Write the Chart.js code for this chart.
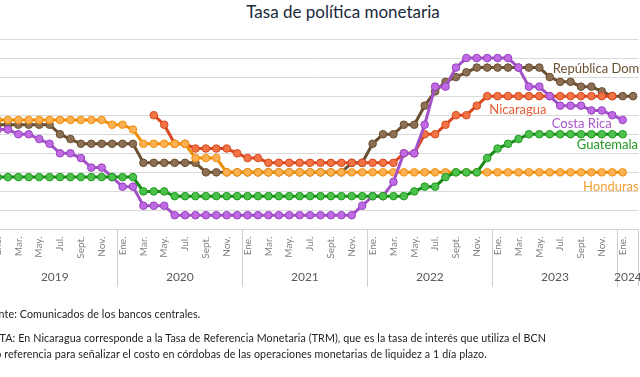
<!DOCTYPE html>
<html>
<head>
<meta charset="utf-8">
<script src="https://cdn.jsdelivr.net/npm/chart.js@4"></script>
<style>
  html, body { margin: 0; padding: 0; background: #fff; }
  #frame { position: relative; width: 640px; height: 377px; overflow: hidden; font-family: Lato, sans-serif; }
  #title { position: absolute; top: 1px; left: 0; width: 686px; text-align: center; font-size: 17px; color: #1b2a3a; }
  #chartBox { position: absolute; left: -40px; top: 0; width: 700px; height: 377px; }
  .note { position: absolute; font-size: 10.7px; letter-spacing: 0.1px; color: #222; white-space: nowrap; line-height: 16px; }
</style>
</head>
<body>
<div id="frame">
  <div id="title">Tasa de política monetaria</div>
  <div id="chartBox"><canvas id="rateChart" width="700" height="377"></canvas></div>
  <div class="note" style="left:-19px; top:306px;">Fuente: Comunicados de los bancos centrales.</div>
  <div class="note" style="left:-17px; top:330px;">NOTA: En Nicaragua corresponde a la Tasa de Referencia Monetaria (TRM), que es la tasa de interés que utiliza el BCN</div>
  <div class="note" style="left:-25px; top:346px;">como referencia para señalizar el costo en córdobas de las operaciones monetarias de liquidez a 1 día plazo.</div>
</div>
<script>
// Years and month labels (only odd months are labelled)
const years = ['2019', '2020', '2021', '2022', '2023', '2024'];
const monthNames = ['Ene.', '', 'Mar.', '', 'May.', '', 'Jul.', '', 'Sept.', '', 'Nov.', ''];
const monthsInYear = [12, 12, 12, 12, 12, 2];

// Policy rates, % (monthly, Jan 2019 - Feb 2024)
const republicaDominicana = [
  5.5, 5.5, 5.5, 5.5, 5.5, 5.5, 5.0, 4.75, 4.5, 4.5, 4.5, 4.5,
  4.5, 4.5, 3.5, 3.5, 3.5, 3.5, 3.5, 3.5, 3.0, 3.0, 3.0, 3.0,
  3.0, 3.0, 3.0, 3.0, 3.0, 3.0, 3.0, 3.0, 3.0, 3.0, 3.5, 3.5,
  4.5, 5.0, 5.0, 5.5, 5.5, 6.5, 7.25, 7.75, 8.0, 8.25, 8.5, 8.5,
  8.5, 8.5, 8.5, 8.5, 8.5, 8.0, 7.75, 7.75, 7.5, 7.5, 7.25, 7.0,
  7.0, 7.0
];
const costaRica = [
  5.25, 5.25, 5.0, 5.0, 4.75, 4.5, 4.0, 4.0, 3.75, 3.25, 3.25, 2.75,
  2.25, 2.25, 1.25, 1.25, 1.25, 0.75, 0.75, 0.75, 0.75, 0.75, 0.75, 0.75,
  0.75, 0.75, 0.75, 0.75, 0.75, 0.75, 0.75, 0.75, 0.75, 0.75, 0.75, 1.25,
  1.75, 1.75, 2.5, 4.0, 4.0, 5.5, 7.5, 7.5, 8.5, 9.0, 9.0, 9.0,
  9.0, 9.0, 8.5, 7.5, 7.5, 7.0, 6.5, 6.5, 6.5, 6.25, 6.25, 6.0,
  5.75, null
];
const nicaragua = [
  null, null, null, null, null, null, null, null, null, null, null, null,
  null, null, null, 6.0, 5.5, 4.5, 4.5, 4.25, 4.25, 4.25, 4.25, 4.0,
  3.75, 3.75, 3.5, 3.5, 3.5, 3.5, 3.5, 3.5, 3.5, 3.5, 3.5, 3.5,
  3.5, 3.5, 3.5, 4.0, 4.0, 5.0, 5.0, 5.5, 6.0, 6.0, 6.5, 7.0,
  7.0, 7.0, 7.0, 7.0, 7.0, 7.0, 7.0, 7.0, 7.0, 7.0, 7.0, 7.0,
  null, null
];
const guatemala = [
  2.75, 2.75, 2.75, 2.75, 2.75, 2.75, 2.75, 2.75, 2.75, 2.75, 2.75, 2.75,
  2.75, 2.75, 2.0, 2.0, 2.0, 1.75, 1.75, 1.75, 1.75, 1.75, 1.75, 1.75,
  1.75, 1.75, 1.75, 1.75, 1.75, 1.75, 1.75, 1.75, 1.75, 1.75, 1.75, 1.75,
  1.75, 1.75, 1.75, 1.75, 2.0, 2.25, 2.25, 2.75, 3.0, 3.0, 3.0, 3.75,
  4.25, 4.5, 4.75, 5.0, 5.0, 5.0, 5.0, 5.0, 5.0, 5.0, 5.0, 5.0,
  5.0, null
];
const honduras = [
  5.75, 5.75, 5.75, 5.75, 5.75, 5.75, 5.75, 5.75, 5.75, 5.75, 5.75, 5.5,
  5.5, 5.25, 4.5, 4.5, 4.5, 4.5, 4.5, 3.75, 3.75, 3.75, 3.0, 3.0,
  3.0, 3.0, 3.0, 3.0, 3.0, 3.0, 3.0, 3.0, 3.0, 3.0, 3.0, 3.0,
  3.0, 3.0, 3.0, 3.0, 3.0, 3.0, 3.0, 3.0, 3.0, 3.0, 3.0, 3.0,
  3.0, 3.0, 3.0, 3.0, 3.0, 3.0, 3.0, 3.0, 3.0, 3.0, 3.0, 3.0,
  3.0, null
];

// Build the category axis: one slot per month, remembering the year of each
const categories = [];
const categoryYears = [];
years.forEach((yr, k) => {
  for (let m = 0; m < monthsInYear[k]; m++) {
    categories.push(monthNames[m]);
    categoryYears.push(yr);
  }
});

function series(label, data, line, fill, border, textColor, labelAt) {
  return {
    label: label,
    data: data,
    borderColor: line,
    borderWidth: 3,
    pointRadius: 3.8,
    pointBorderWidth: 1,
    pointBackgroundColor: fill,
    pointBorderColor: border,
    tension: 0,
    labelColor: textColor,
    labelAt: labelAt // [month slot, value] where the name is written
  };
}

// first dataset is drawn on top
const datasets = [
  series('Guatemala', guatemala, '#168c16', '#4cc24c', '#1f9a1f', '#1f961f', [55.6, 4.44]),
  series('Costa Rica', costaRica, '#a452c8', '#c06ae6', '#9642bc', '#a856c8', [53.2, 5.57]),
  series('Honduras', honduras, '#f08c00', '#fbb054', '#f0900c', '#f5a033', [56.2, 2.25]),
  series('Nicaragua', nicaragua, '#d9481f', '#f27445', '#d9481f', '#e45c35', [47.2, 6.27]),
  series('República Dominicana', republicaDominicana, '#6b4e2e', '#8c7055', '#6b4e2e', '#6b5031', [53.3, 8.45])
];

// Year names under the month labels, with separators between years
const yearBands = {
  id: 'yearBands',
  afterDraw(chart) {
    const x = chart.scales.x;
    const area = chart.chartArea;
    const ctx = chart.ctx;
    const slot = x.getPixelForValue(1) - x.getPixelForValue(0);
    ctx.save();
    ctx.strokeStyle = '#d0d0d0';
    ctx.lineWidth = 1;
    ctx.fillStyle = '#595959';
    ctx.font = '12px Lato';
    ctx.textAlign = 'center';
    ctx.textBaseline = 'middle';
    years.forEach(yr => {
      const first = categoryYears.indexOf(yr);
      const last = categoryYears.lastIndexOf(yr);
      const left = x.getPixelForValue(first) - slot / 2;
      const right = x.getPixelForValue(last) + slot / 2;
      [left, right].forEach(px => {
        ctx.beginPath();
        ctx.moveTo(Math.round(px) + 0.5, area.bottom);
        ctx.lineTo(Math.round(px) + 0.5, area.bottom + 57);
        ctx.stroke();
      });
      ctx.fillText(yr, (left + right) / 2, area.bottom + 48);
    });
    ctx.restore();
  }
};

// Country names next to their lines
const seriesLabels = {
  id: 'seriesLabels',
  afterDatasetsDraw(chart) {
    const { x, y } = chart.scales;
    const ctx = chart.ctx;
    ctx.save();
    ctx.font = '13px Lato';
    ctx.textAlign = 'left';
    ctx.textBaseline = 'middle';
    chart.data.datasets.forEach(ds => {
      ctx.fillStyle = ds.labelColor;
      ctx.fillText(ds.label, x.getPixelForValue(ds.labelAt[0]), y.getPixelForValue(ds.labelAt[1]));
    });
    ctx.restore();
  }
};

new Chart(document.getElementById('rateChart').getContext('2d'), {
  type: 'line',
  data: { labels: categories, datasets: datasets },
  options: {
    responsive: false,
    animation: false,
    layout: { padding: { left: 32.3, right: 21.7, top: 39, bottom: 87.5 } },
    plugins: {
      legend: { display: false },
      tooltip: { enabled: false },
      title: { display: false }
    },
    scales: {
      x: {
        offset: true,
        grid: { display: false, drawTicks: false },
        border: { color: '#d0d0d0' },
        ticks: {
          autoSkip: false,
          minRotation: 90,
          maxRotation: 90,
          padding: 7,
          color: '#7f7f7f',
          font: { family: 'Lato', size: 10 }
        },
        afterFit: s => { s.height = 60; }
      },
      y: {
        min: 0,
        max: 10,
        ticks: { display: false, stepSize: 1 },
        grid: { color: '#d9d9d9', drawTicks: false },
        border: { display: false },
        afterFit: s => { s.width = 0; }
      }
    }
  },
  plugins: [yearBands, seriesLabels]
});
</script>
</body>
</html>
